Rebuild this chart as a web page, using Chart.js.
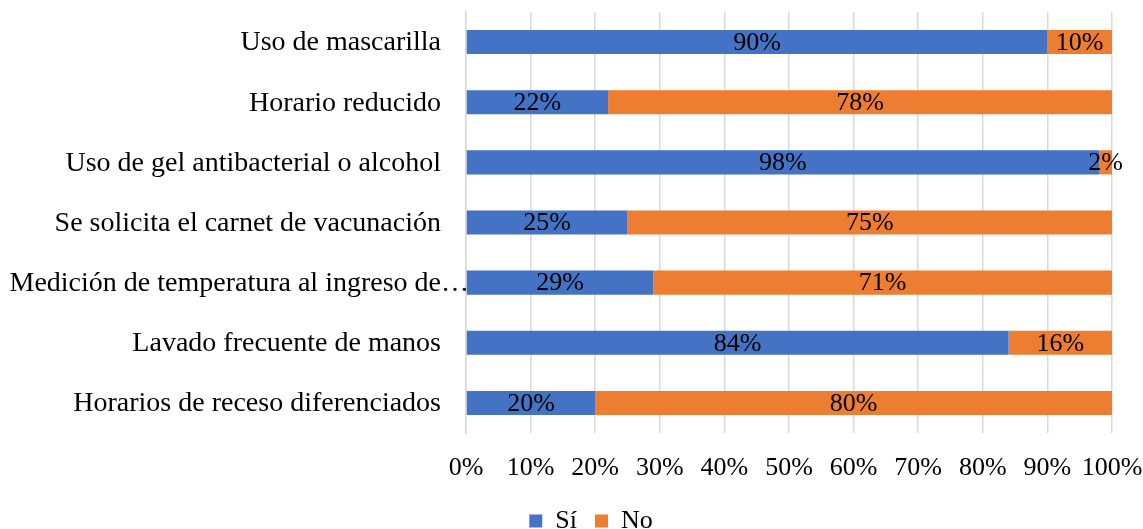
<!DOCTYPE html>
<html>
<head>
<meta charset="utf-8">
<script src="https://cdn.jsdelivr.net/npm/chart.js@4/dist/chart.umd.min.js"></script>
<style>
    html, body { margin: 0; padding: 0; background: #fff; overflow: hidden; }
    canvas { display: block; }
</style>
</head>
<body>
<canvas id="medidas" width="1143" height="545"></canvas>
<script>
const categorias = [
    'Uso de mascarilla',
    'Horario reducido',
    'Uso de gel antibacterial o alcohol',
    'Se solicita el carnet de vacunación',
    'Medición de temperatura al ingreso de…',
    'Lavado frecuente de manos',
    'Horarios de receso diferenciados'
];
const valoresSi = [90, 22, 98, 25, 29, 84, 20];
const valoresNo = [10, 78, 2, 75, 71, 16, 80];
const ticksX = [0, 10, 20, 30, 40, 50, 60, 70, 80, 90, 100];

const fuente = '"Liberation Serif", "Times New Roman", serif';

// nombres de las medidas, alineados a la derecha; el "…" puede sobresalir
const nombres = {
    id: 'nombres',
    afterDraw(chart) {
        const ctx = chart.ctx;
        const y = chart.scales.y;
        const xDer = chart.chartArea.left - 25;
        ctx.save();
        ctx.font = '28px ' + fuente;
        ctx.fillStyle = '#000';
        ctx.textAlign = 'left';
        ctx.textBaseline = 'middle';
        chart.data.labels.forEach((txt, i) => {
            const base = txt.endsWith('…') ? txt.slice(0, -1) : txt;
            const w = ctx.measureText(base).width;
            ctx.fillText(txt, xDer - w, y.getPixelForTick(i) + 1);
        });
        ctx.restore();
    }
};

// porcentaje en el centro de cada segmento
const etiquetas = {
    id: 'etiquetas',
    afterDatasetsDraw(chart) {
        const ctx = chart.ctx;
        ctx.save();
        ctx.font = '26px ' + fuente;
        ctx.fillStyle = '#000';
        ctx.textAlign = 'center';
        ctx.textBaseline = 'middle';
        chart.data.datasets.forEach((ds, i) => {
            chart.getDatasetMeta(i).data.forEach((bar, j) => {
                const p = bar.getCenterPoint();
                ctx.fillText(ds.data[j] + '%', p.x, p.y + 1);
            });
        });
        ctx.restore();
    }
};

new Chart(document.getElementById('medidas'), {
    type: 'bar',
    data: {
        labels: categorias,
        datasets: [
            { label: 'Sí', data: valoresSi, backgroundColor: '#4472C4', barPercentage: 0.4, categoryPercentage: 1 },
            { label: 'No', data: valoresNo, backgroundColor: '#ED7D31', barPercentage: 0.4, categoryPercentage: 1 }
        ]
    },
    options: {
        indexAxis: 'y',
        responsive: false,
        animation: false,
        layout: { padding: { top: 12, right: 31, bottom: 1, left: 70 } },
        plugins: {
            legend: {
                position: 'bottom',
                labels: {
                    color: '#000',
                    font: { family: fuente, size: 26 },
                    boxWidth: 13,
                    boxHeight: 13,
                    padding: 18
                }
            },
            tooltip: { enabled: false }
        },
        scales: {
            x: {
                stacked: true,
                min: 0,
                max: 100,
                afterBuildTicks: axis => { axis.ticks = ticksX.map(v => ({ value: v })); },
                afterFit: sc => {
                    sc.height = 57;
                    sc.paddingLeft = 0;
                    sc.paddingRight = 0;
                },
                ticks: {
                    color: '#000',
                    font: { family: fuente, size: 26 },
                    padding: 20,
                    maxRotation: 0,
                    callback: v => v + '%'
                },
                grid: { color: '#d9d9d9', lineWidth: 1.5, drawTicks: false },
                border: { display: false }
            },
            y: {
                stacked: true,
                afterFit: sc => { sc.width = 396; },
                ticks: { display: false },
                grid: { display: false, drawTicks: false },
                border: { color: '#d9d9d9', width: 1.5 }
            }
        }
    },
    plugins: [etiquetas, nombres]
});
</script>
</body>
</html>
